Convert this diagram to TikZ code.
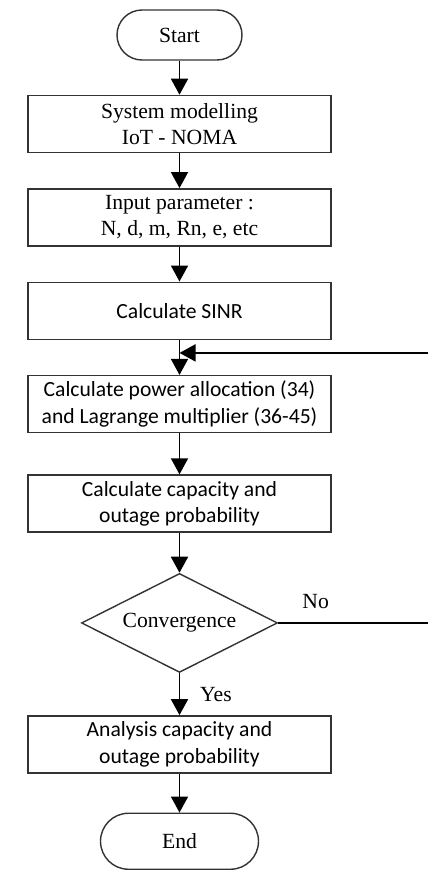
\documentclass[tikz,border=0pt]{standalone}
\usepackage{fontspec}
\setmainfont{Liberation Serif}
\newfontfamily\calibri{Carlito}
\usetikzlibrary{positioning, arrows.meta, shapes.geometric}

\begin{document}
\begin{tikzpicture}[
        font=\fontsize{12.3}{15}\selectfont,
        >={Triangle[length=3.2mm, width=3.4mm]},
        node distance=7mm,
        box/.style={rectangle, draw=black!80, line width=0.8pt, minimum width=6.06cm, minimum height=1.14cm, align=center, inner sep=2pt},
        sansbox/.style={box, font=\calibri\fontsize{12.3}{15}\selectfont},
        terminal/.style={rectangle, rounded corners=5mm, draw=black!80, line width=0.8pt, minimum width=2.5cm, minimum height=1cm},
        decision/.style={diamond, aspect=2, draw=black!80, line width=0.8pt, minimum width=3.92cm, minimum height=1.98cm, inner sep=0pt},
        arrow/.style={->, line width=1pt}
    ]
        \useasboundingbox (0,0) rectangle (8.56,-17.4);

        % Start
        \node[terminal] (start) at (3.59,-0.7) {Start};

        % Setup steps
        \node[box, below=6.8mm of start] (model) {System modelling\\IoT - NOMA};
        \node[box, below=of model] (input) {Input parameter :\\N, d, m, Rn, e, etc};
        \node[sansbox, below=of input] (sinr) {Calculate SINR};

        % Iteration
        \node[sansbox, below=of sinr] (power) {Calculate power allocation (34)\\and Lagrange multiplier (36-45)};
        \node[sansbox, below=8.2mm of power] (capacity) {Calculate capacity and\\outage probability};
        \node[decision, below=8mm of capacity] (conv) {Convergence};

        % Result
        \node[sansbox, below=8.4mm of conv] (analysis) {Analysis capacity and\\outage probability};
        \node[terminal, rounded corners=5.6mm, minimum width=3.16cm, minimum height=1.12cm, below=7.8mm of analysis] (end) {End};

        % Loop points
        \coordinate[below=2.6mm of sinr] (merge);
        \coordinate (loopout) at (8.56,0 |- conv.east);
        \coordinate (loopin) at (8.56,0 |- merge);

        % Arrows
        \draw[arrow] (start) -- (model);
        \draw[arrow] (model) -- (input);
        \draw[arrow] (input) -- (sinr);
        \draw[arrow] (sinr) -- (power);
        \draw[arrow] (power) -- (capacity);
        \draw[arrow] (capacity) -- (conv);
        \draw[arrow] (conv) -- (analysis) node[midway, right=2.8mm] {Yes};
        \draw[arrow] (analysis) -- (end);

        \draw[line width=1pt] (conv.east) -- (loopout) node[pos=0.25, above=1.5mm] {No};
        \draw[arrow] (loopin) -- (merge);
    \end{tikzpicture}
\end{document}
